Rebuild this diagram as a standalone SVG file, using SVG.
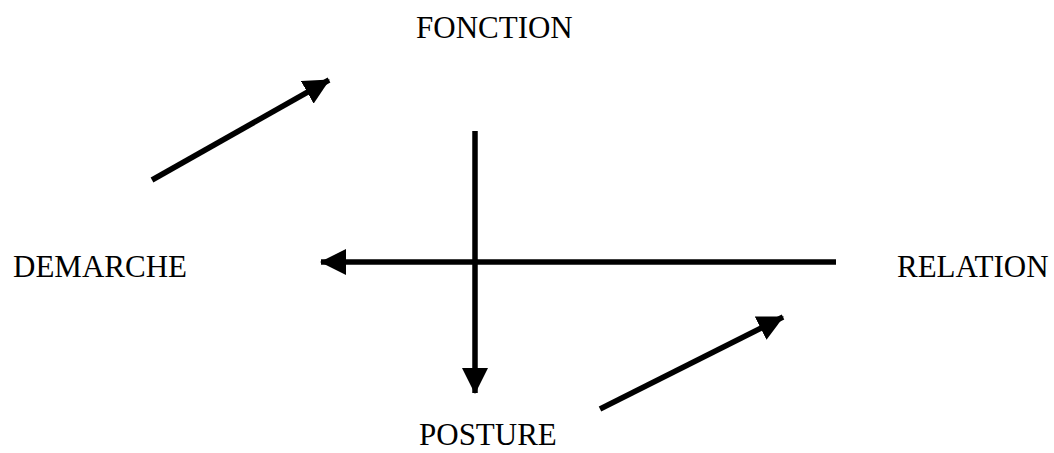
<svg xmlns="http://www.w3.org/2000/svg" width="1054" height="453" viewBox="0 0 1054 453">
<style>
.lbl{font-family:"Liberation Serif","Times New Roman",serif;font-size:31px;fill:#000}
.ln{stroke:#000;stroke-width:5.5;fill:none}
</style>
<defs>
<marker id="ah" markerUnits="userSpaceOnUse" viewBox="0 0 26 26" refX="25" refY="13" markerWidth="26" markerHeight="26" orient="auto">
<path d="M0,0 L26,13 L0,26 Z" fill="#000"/>
</marker>
</defs>
<rect width="1054" height="453" fill="#fff"/>
<g id="fonction"><text class="lbl" x="416" y="38">FONCTION</text></g>
<g id="demarche"><text class="lbl" x="13" y="277">DEMARCHE</text></g>
<g id="relation"><text class="lbl" x="897" y="277">RELATION</text></g>
<g id="posture"><text class="lbl" x="419" y="445">POSTURE</text></g>
<g id="connectors">
<line class="ln" x1="152" y1="180" x2="329" y2="80" marker-end="url(#ah)"/>
<line class="ln" x1="836" y1="262" x2="321" y2="262" marker-end="url(#ah)"/>
<line class="ln" x1="475" y1="131" x2="475" y2="393" marker-end="url(#ah)"/>
<line class="ln" x1="600" y1="409" x2="783" y2="317" marker-end="url(#ah)"/>
</g>
</svg>
